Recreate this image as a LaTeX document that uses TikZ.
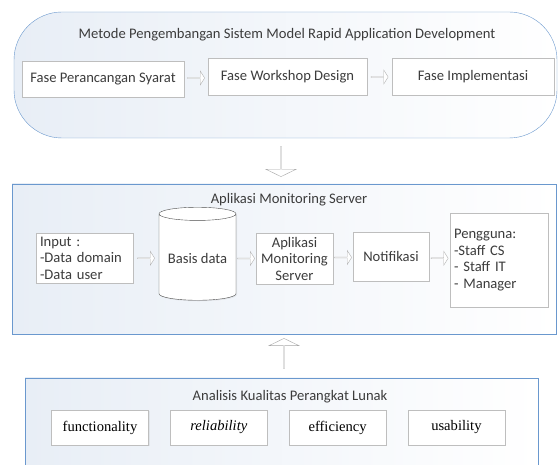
\documentclass[tikz,border=0pt]{standalone}
\usepackage{fontspec}
\setmainfont{Carlito}
\newfontfamily\serifrm{Liberation Serif}
\usetikzlibrary{shapes.geometric,shapes.arrows,shadows,calc}
\definecolor{frameblue}{RGB}{106,152,206}
\definecolor{paleblue}{RGB}{232,238,246}
\definecolor{boxgray}{RGB}{190,190,190}
\definecolor{txtgray}{RGB}{60,60,60}

\begin{document}
\begin{tikzpicture}[x=1pt,y=-1pt,
  font=\fontsize{14.6}{16.5}\selectfont, text=txtgray,
  panel/.style={draw=frameblue, left color=paleblue, right color=white, inner sep=0pt},
  box/.style={draw=boxgray, fill=white, drop shadow={opacity=.12,shadow xshift=1pt,shadow yshift=-1pt}, inner sep=4pt, align=center},
  smallarr/.style={single arrow, draw=gray!60, fill=white, minimum height=17pt, minimum width=14pt, single arrow head extend=2.5pt, inner sep=0pt, single arrow tip angle=115},
  bigarr/.style={single arrow, draw=gray!70, fill=white, minimum height=30pt, minimum width=30pt, single arrow head extend=6pt, inner sep=0pt, single arrow tip angle=128},
  quality/.style={box, font=\serifrm\fontsize{14.6}{16}\selectfont, text=black, minimum width=97pt, minimum height=35pt}]
\clip (0,0) rectangle (558,465);
\fill[white] (0,0) rectangle (558,465);

\node[panel, rounded corners=48pt, minimum width=543pt, minimum height=126pt] (rad) at (285.5,75) {};
\node (radtitle) at (287,35) {Metode Pengembangan Sistem Model Rapid Application Development};
\node[box, minimum width=162pt, minimum height=36pt] (fase1) at (103,79) {Fase Perancangan Syarat};
\node[box, minimum width=159pt, minimum height=37pt] (fase2) at (287.5,77) {Fase Workshop Design};
\node[box, minimum width=162pt, minimum height=37pt] (fase3) at (473,77) {Fase Implementasi};
\node[smallarr] (fa1) at ($(fase1.east)!.5!(fase2.west)$) {};
\node[smallarr] (fa2) at ($(fase2.east)!.5!(fase3.west)$) {};

\node[bigarr, shape border rotate=270] (down) at (281,161.5) {};

\node[panel, minimum width=544pt, minimum height=150pt] (app) at (284,259) {};
\node (apptitle) at (289,200) {Aplikasi Monitoring Server};
\node[box, text width=89pt, align=left, minimum height=50pt] (input) at (84.5,258) {Input :\\-Data domain\\-Data user};
\node[cylinder, shape border rotate=90, aspect=0.2, draw=black!70, fill=white, minimum width=77pt, minimum height=93pt, drop shadow={opacity=.12,shadow xshift=1pt,shadow yshift=-1pt}] (db) at (197.5,258.5) {Basis data};
\node[box, minimum width=77pt, minimum height=51pt] (apl) at (294.5,258.5) {Aplikasi\\Monitoring\\Server};
\node[box, minimum width=76pt, minimum height=49pt] (notif) at (391,256.5) {Notifikasi};
\node[box, text width=90pt, align=left, minimum height=94pt] (user) at (499,260) {Pengguna:\\-Staff CS\\- Staff IT\\- Manager};
\node[smallarr] (ma1) at ($(input.east)!.5!(db.west)$) {};
\node[smallarr] (ma2) at ($(db.east)!.5!(apl.west)$) {};
\node[smallarr] (ma3) at ($(apl.east)!.5!(notif.west)$) {};
\node[smallarr] (ma4) at ($(notif.east)!.5!(user.west)$) {};

\node[bigarr, shape border rotate=90] (up) at (284,353.5) {};

\node[panel, minimum width=513pt, minimum height=102pt] (qual) at (281.5,429) {};
\node (qualtitle) at (290,397) {Analisis Kualitas Perangkat Lunak};
\foreach \nm/\lbl [count=\i] in {func/functionality,rel/\textit{reliability},eff/efficiency,usa/usability}{
  \node[quality] (\nm) at (100+118.8*\i-118.8,427.5) {\lbl};
}
\end{tikzpicture}
\end{document}
